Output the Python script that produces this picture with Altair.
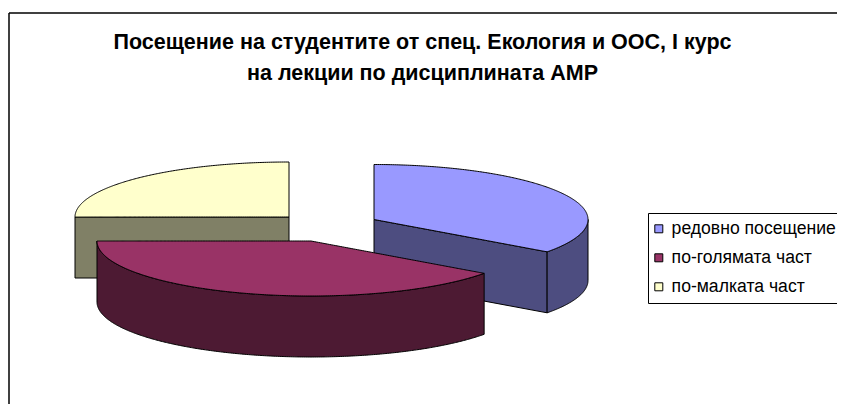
import math
import altair as alt
import pandas as pd

# --- chart values ---
categories = ["редовно посещение", "по-голямата част", "по-малката част"]
shares = [35, 40, 25]
top_colors = ["#9999FF", "#993366", "#FFFFCC"]
side_colors = ["#4D4D80", "#4D1A33", "#808066"]
title_lines = ["Посещение на студентите от спец. Екология и ООС, I курс",
               "на лекции по дисциплината АМР"]

# --- 3D projection layout (page pixels) ---
W, H = 829, 396
RX, RY, DEPTH = 214, 55, 61
centres = {0: (374, 219.5), 1: (311, 241), 2: (289, 217)}


def point(i, deg, drop=0):
    cx, cy = centres[i]
    t = math.radians(deg)
    return (cx + RX * math.sin(t) - 8, cy - RY * math.cos(t) + drop - 8)


def arc(i, a, b, drop=0):
    n = max(2, int(abs(b - a)) * 2)
    return [point(i, a + (b - a) * k / n, drop) for k in range(n + 1)]


def to_area(poly):
    """Turn an x-monotone polygon into x / y / y2 rows for an area mark."""
    xs = sorted({round(p[0], 3) for p in poly})
    rows = []
    m = len(poly)
    for x in xs:
        ys = []
        for k in range(m):
            (x0, y0), (x1, y1) = poly[k], poly[(k + 1) % m]
            x0r, x1r = round(x0, 3), round(x1, 3)
            if min(x0r, x1r) <= x <= max(x0r, x1r):
                if x0r == x1r:
                    ys += [y0, y1]
                else:
                    ys.append(y0 + (y1 - y0) * (x - x0r) / (x1r - x0r))
        rows.append({"x": x, "y": min(ys), "y2": max(ys)})
    return pd.DataFrame(rows)


# slice angles from the shares, clockwise from 12 o'clock
angles = []
start = 0.0
for s in shares:
    end = start + 360.0 * s / sum(shares)
    angles.append((start, end))
    start = end

xs = alt.Scale(domain=[0, W], range=[0, W])
ys = alt.Scale(domain=[0, H], range=[0, H])


def side(poly, colour):
    return alt.Chart(to_area(poly)).mark_area(
        stroke="black", strokeWidth=1, interpolate="linear", fill=colour
    ).encode(
        x=alt.X("x:Q", scale=xs, axis=None),
        y=alt.Y("y:Q", scale=ys, axis=None),
        y2="y2:Q",
    )


def top(i):
    a, b = angles[i]
    poly = [(centres[i][0] - 8, centres[i][1] - 8)] + arc(i, a, b)
    df = to_area(poly)
    df["category"] = categories[i]
    return alt.Chart(df).mark_area(
        stroke="black", strokeWidth=1, interpolate="linear"
    ).encode(
        x=alt.X("x:Q", scale=xs, axis=None),
        y=alt.Y("y:Q", scale=ys, axis=None),
        y2="y2:Q",
        color=alt.Color(
            "category:N",
            scale=alt.Scale(domain=categories, range=top_colors),
            legend=alt.Legend(
                title=None, orient="none", legendX=640, legendY=205,
                fillColor="white", strokeColor="black", padding=7,
                symbolType="square", symbolSize=64, symbolOffset=-5,
                symbolStrokeColor="black", symbolStrokeWidth=1,
                labelFont="Liberation Sans", labelFontSize=17.6, labelColor="black",
                rowPadding=10, labelOffset=4, labelLimit=300,
            ),
        ),
    )


def cut_face(i, deg):
    cx, cy = centres[i]
    c = (cx - 8, cy - 8)
    p = point(i, deg)
    return [c, p, (p[0], p[1] + DEPTH), (c[0], c[1] + DEPTH)]


def outer_wall(i, a, b):
    return arc(i, a, b) + arc(i, b, a, DEPTH)


blue_end = angles[0][1]
maroon = angles[1]

layers = [
    # yellow slice: front cut face, then top
    side(cut_face(2, 270), side_colors[2]),
    top(2),
    # blue slice: cut face, outer wall, top
    side(cut_face(0, blue_end), side_colors[0]),
    side(outer_wall(0, 90, blue_end), side_colors[0]),
    top(0),
    # maroon slice: outer wall, top
    side(outer_wall(1, maroon[0], maroon[1]), side_colors[1]),
    top(1),
    # chart-area frame (runs off the bottom and right of the picture)
    alt.Chart(pd.DataFrame({"a": [0]})).mark_rule(color="black", strokeWidth=1.5).encode(
        x=alt.value(1), y=alt.value(5), y2=alt.value(H)),
    alt.Chart(pd.DataFrame({"a": [0]})).mark_rule(color="black", strokeWidth=1.5).encode(
        x=alt.value(1), x2=alt.value(W), y=alt.value(5)),
]

chart = alt.layer(*layers).properties(
    width=W, height=H, padding=0,
    autosize=alt.AutoSizeParams(type="none"),
    background="white",
    title=alt.TitleParams(
        text=title_lines, font="Liberation Sans", fontSize=21.5, fontWeight="bold",
        color="black", anchor="middle", lineHeight=31, baseline="top",
        dx=0, dy=80,
    ),
).configure_view(stroke=None)

chart.save("out.html", embed_options={"renderer": "svg", "actions": False})
